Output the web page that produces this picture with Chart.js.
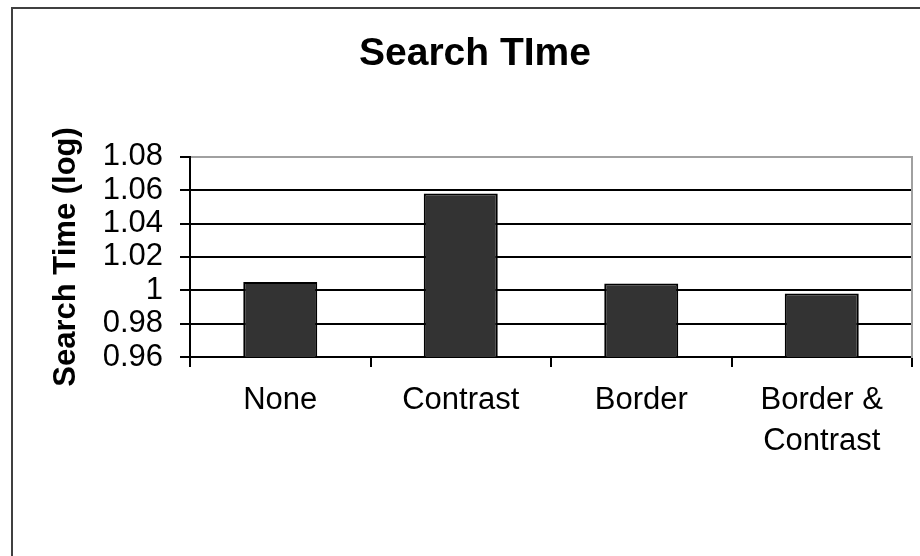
<!DOCTYPE html>
<html>
<head>
<meta charset="utf-8">
<script src="https://cdn.jsdelivr.net/npm/chart.js@4/dist/chart.umd.min.js"></script>
<style>
  html, body { margin: 0; padding: 0; background: #fff; }
  #wrap { position: relative; width: 920px; height: 556px; overflow: hidden; background: #fff; }
  #frame { position: absolute; left: 11px; top: 7px; width: 1000px; height: 700px; border: 2px solid #404040; z-index: 0; }
  #c { position: absolute; left: 0; top: 0; z-index: 1; }
</style>
</head>
<body>
<div id="wrap">
  <div id="frame"></div>
  <canvas id="c" width="950" height="556"></canvas>
</div>
<script>
const categories = ['None', 'Contrast', 'Border', ['Border &', 'Contrast']];
const searchTime = [1.005, 1.058, 1.004, 0.998];
const yTicks = [0.96, 0.98, 1.00, 1.02, 1.04, 1.06, 1.08];

const FONT = "'Liberation Sans', Arial, sans-serif";

new Chart(document.getElementById('c'), {
  type: 'bar',
  data: {
    labels: categories,
    datasets: [{
      data: searchTime,
      backgroundColor: '#333333',
      borderColor: '#000000',
      borderWidth: 2,
      borderSkipped: false,
      barPercentage: 0.41,
      categoryPercentage: 1.0
    }]
  },
  options: {
    responsive: false,
    animation: false,
    devicePixelRatio: 1,
    layout: { padding: 0 },
    plugins: {
      legend: { display: false },
      tooltip: { enabled: false },
      title: {
        display: true,
        text: 'Search TIme',
        color: '#000',
        font: { family: FONT, size: 39, weight: 'bold', lineHeight: 1.2 },
        padding: { top: 31, bottom: 79 }
      }
    },
    scales: {
      x: {
        grid: {
          offset: true,
          drawOnChartArea: false,
          tickLength: 10,
          color: '#000',
          lineWidth: 2
        },
        border: { color: '#000', width: 2 },
        ticks: {
          color: '#000',
          padding: 13,
          maxRotation: 0,
          autoSkip: false,
          font: { family: FONT, size: 31, lineHeight: 1.32 }
        },
        afterFit(scale) { scale.height = 199; }
      },
      y: {
        min: 0.96,
        max: 1.08,
        afterBuildTicks(scale) { scale.ticks = yTicks.map(v => ({ value: v })); },
        grid: {
          tickLength: 10,
          lineWidth: 2,
          color: (ctx) => (ctx.tick && Math.abs(ctx.tick.value - 1.08) < 1e-9) ? '#a0a0a0' : '#000',
          tickColor: '#000'
        },
        border: { color: '#000', width: 2 },
        ticks: {
          color: '#000',
          padding: 17,
          autoSkip: false,
          font: { family: FONT, size: 31 },
          callback: (v) => String(Number(Number(v).toFixed(2)))
        },
        title: {
          display: true,
          text: 'Search Time (log)',
          color: '#000',
          font: { family: FONT, size: 31, weight: 'bold', lineHeight: 1.2 },
          padding: { top: 48, bottom: 0 }
        },
        afterFit(scale) { scale.width = 190; }
      },
      yRight: {
        position: 'right',
        min: 0.96,
        max: 1.08,
        grid: { display: false, drawTicks: false },
        ticks: { display: false },
        border: { color: '#a0a0a0', width: 2 },
        afterFit(scale) { scale.width = 38; }
      }
    }
  }
});
</script>
</body>
</html>
